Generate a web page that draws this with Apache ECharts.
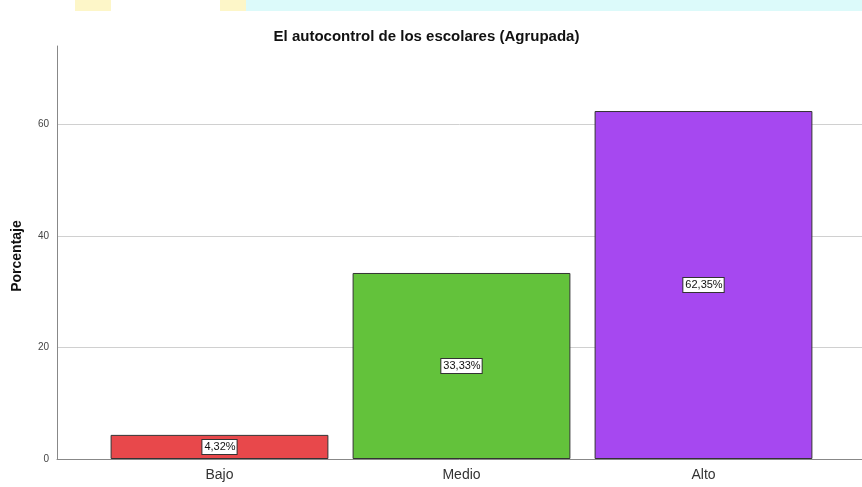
<!DOCTYPE html>
<html>
<head>
<meta charset="utf-8">
<script src="https://cdn.jsdelivr.net/npm/echarts@6/dist/echarts.min.js"></script>
<style>html,body{margin:0;padding:0;background:#fff}#c{width:862px;height:487px}</style>
</head>
<body>
<div id="c"></div>
<script>
const titleText = "El autocontrol de los escolares (Agrupada)";
const yAxisName = "Porcentaje";
const categories = ["Bajo", "Medio", "Alto"];
const values = [4.32, 33.33, 62.35];
const barColors = ["#e8484b", "#63c23b", "#a648f0"];
const yTicks = [0, 20, 40, 60];

const chart = echarts.init(document.getElementById('c'), null, {renderer: 'canvas'});
const font = "'Liberation Sans', Arial, sans-serif";
const yMax = 74;
const gTop = 46, gBottom = 487 - 459;

chart.setOption({
  animation: false,
  backgroundColor: '#fff',
  graphic: [
    {type: 'rect', shape: {x: 245, y: 0, width: 617, height: 11}, style: {fill: '#dcfafa'}, silent: true},
    {type: 'rect', shape: {x: 75, y: 0, width: 36, height: 11}, style: {fill: '#fdf6c8'}, silent: true},
    {type: 'rect', shape: {x: 220, y: 0, width: 26, height: 11}, style: {fill: '#fdf6c8'}, silent: true},
    {type: 'text', x: 426.5, y: 37,
      style: {text: titleText, font: 'bold 15px ' + font, fill: '#111', textAlign: 'center', textVerticalAlign: 'middle'}},
    {type: 'text', rotation: Math.PI / 2, x: 17, y: 256,
      style: {text: yAxisName, font: 'bold 14px ' + font, fill: '#111', textAlign: 'center', textVerticalAlign: 'middle'}}
  ],
  grid: [
    {left: 57, right: 0, top: gTop, bottom: gBottom},
    {left: 98.5, right: 37.5, top: gTop, bottom: gBottom}
  ],
  xAxis: [
    {type: 'value', gridIndex: 0, min: 0, max: 1, show: true,
      axisLine: {show: true, onZero: false, lineStyle: {color: '#888', width: 1}},
      axisTick: {show: false}, axisLabel: {show: false}, splitLine: {show: false}},
    {type: 'category', gridIndex: 1, data: categories,
      axisLine: {show: false}, axisTick: {show: false},
      axisLabel: {fontFamily: font, fontSize: 14, color: '#333', margin: 9}}
  ],
  yAxis: [
    {type: 'value', gridIndex: 0, min: 0, max: yMax, interval: 20,
      axisLine: {show: true, lineStyle: {color: '#888', width: 1}},
      axisTick: {show: false},
      axisLabel: {fontFamily: font, fontSize: 10, color: '#444', margin: 8, showMaxLabel: false,
        formatter: v => yTicks.includes(v) ? String(v) : ''},
      splitLine: {show: true, showMaxLine: false, lineStyle: {color: '#d0d0d0', width: 1}}},
    {type: 'value', gridIndex: 1, min: 0, max: yMax, show: false}
  ],
  series: [{
    type: 'bar', xAxisIndex: 1, yAxisIndex: 1,
    barCategoryGap: '10%',
    data: values.map((v, i) => ({value: v, itemStyle: {color: barColors[i]}})),
    itemStyle: {borderColor: '#333', borderWidth: 1},
    label: {
      show: true, position: 'inside',
      formatter: p => p.value.toFixed(2).replace('.', ',') + '%',
      fontFamily: font, fontSize: 11, color: '#111',
      backgroundColor: '#fff', borderColor: '#333', borderWidth: 1,
      padding: [2, 1, 1, 2]
    }
  }]
});
</script>
</body>
</html>
